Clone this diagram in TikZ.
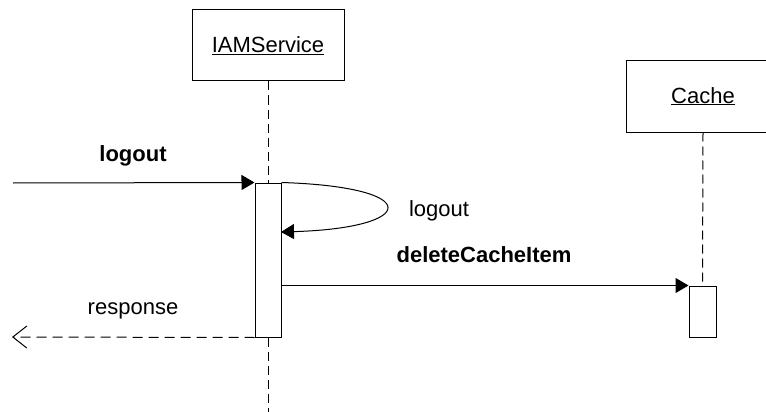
\documentclass[tikz,border=0pt]{standalone}
\usepackage{fontspec}
\setmainfont{Liberation Sans}
\usetikzlibrary{arrows.meta}

\tikzset{
  x=1pt, y=-1pt,
  every node/.style={font=\fontsize{22}{26}\selectfont},
  objbox/.style={draw, line width=1pt, minimum width=152pt, minimum height=71pt, inner sep=0pt},
  actbox/.style={draw, fill=white, line width=1pt, minimum width=26pt, inner sep=0pt},
  lifeline/.style={line width=1pt, dash pattern=on 9pt off 5pt},
  callmsg/.style={line width=1pt, -{Triangle[length=13pt,width=15pt]}},
  replymsg/.style={line width=1pt, dash pattern=on 10pt off 6pt, -{Straight Barb[length=14pt,width=22pt,line width=1pt]}},
  msglabel/.style={anchor=base, inner sep=0pt},
}

\begin{document}
\begin{tikzpicture}
\useasboundingbox (0,0) rectangle (766,412);
\clip (0,0) rectangle (766,412);

% object heads
\node[objbox] (iam) at (268,45.5) {};
\node[anchor=base, inner sep=0pt] (iamlbl) at (268,53) {\underline{IAMService}};
\node[objbox, minimum width=154pt] (cache) at (703,96.5) {};
\node[anchor=base, inner sep=0pt] (cachelbl) at (703,103) {\underline{Cache}};

% activation bars
\node[actbox, minimum height=154pt] (act1) at (268,260) {};
\node[actbox, minimum width=27pt, minimum height=51pt] (act2) at (702.5,311.5) {};

% lifelines
\coordinate (iamend) at (268,412);
\draw[lifeline] (iam.south) -- (act1.north);
\draw[lifeline] (act1.south) -- (iamend);
\draw[lifeline] (cache.south) -- (act2.north);

% messages
\coordinate (caller) at (13,183);
\coordinate (callerret) at (12,337);
\coordinate (selfret) at (281,232);
\coordinate (delstart) at (act1.east |- act2.north);

\draw[callmsg] (caller) -- (act1.north west);
\node[msglabel] (lbl1) at (133,161) {\textbf{logout}};

\draw[callmsg] (act1.north east) .. controls (425,187) and (418,228) .. (selfret);
\node[msglabel] (lbl2) at (439,216) {logout};

\draw[callmsg] (delstart) -- (act2.north west);
\node[msglabel] (lbl3) at (484,262) {\textbf{deleteCacheItem}};

\draw[replymsg] (act1.south west) -- (callerret);
\node[msglabel] (lbl4) at (133,314) {response};
\end{tikzpicture}
\end{document}
